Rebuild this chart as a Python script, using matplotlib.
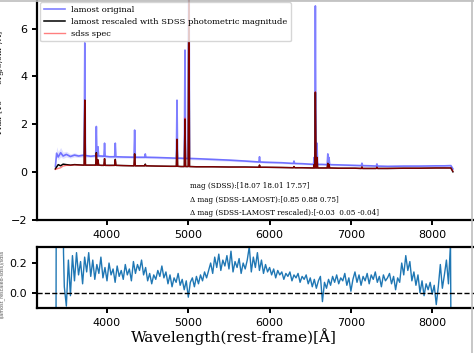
import numpy as np
import matplotlib
matplotlib.use("Agg")
import matplotlib.pyplot as plt
from matplotlib.lines import Line2D

# ---------------- data ----------------
# continuum nodes of the spectra (wavelength, Angstrom)
cont_wl = [3365, 3380, 3400, 3430, 3460, 3500, 3550, 3600, 3650, 3700, 3800, 3850,
           3930, 4030, 4200, 4400, 4600, 4780, 4910, 5100, 5300, 5500, 5700, 5950,
           6150, 6400, 6650, 6850, 7050, 7250, 7450, 7650, 7850, 8050, 8150, 8230, 8255]
blue_cont = [0.22, 0.78, 0.62, 0.8, 0.66, 0.73, 0.64, 0.7, 0.66, 0.69, 0.65, 0.67,
             0.66, 0.63, 0.62, 0.61, 0.6, 0.58, 0.57, 0.55, 0.52, 0.49, 0.45, 0.40,
             0.38, 0.34, 0.31, 0.29, 0.27, 0.25, 0.23, 0.24, 0.24, 0.25, 0.25, 0.26, 0.12]
blue_lo = [0.15, 0.6, 0.5, 0.62, 0.56, 0.62, 0.57, 0.62, 0.6, 0.62, 0.6, 0.61,
           0.6, 0.58, 0.57, 0.56, 0.55, 0.53, 0.52, 0.5, 0.47, 0.44, 0.41, 0.36,
           0.34, 0.3, 0.27, 0.25, 0.23, 0.21, 0.19, 0.2, 0.2, 0.21, 0.21, 0.22, 0.1]
blue_hi = [0.3, 1.05, 0.85, 1.02, 0.82, 0.86, 0.75, 0.8, 0.74, 0.76, 0.71, 0.73,
           0.72, 0.68, 0.67, 0.66, 0.65, 0.63, 0.62, 0.6, 0.57, 0.54, 0.5, 0.45,
           0.42, 0.38, 0.35, 0.33, 0.31, 0.29, 0.27, 0.28, 0.28, 0.29, 0.29, 0.3, 0.15]
black_cont = [0.12, 0.2, 0.3, 0.25, 0.32, 0.3, 0.28, 0.3, 0.29, 0.28, 0.28, 0.28,
              0.27, 0.27, 0.26, 0.25, 0.24, 0.23, 0.22, 0.21, 0.21, 0.2, 0.2, 0.19,
              0.18, 0.17, 0.16, 0.15, 0.15, 0.14, 0.14, 0.15, 0.15, 0.16, 0.16, 0.16, 0.0]
red_cont = [0.1, 0.12, 0.14, 0.17, 0.24, 0.27, 0.27, 0.29, 0.28, 0.28, 0.28, 0.27,
            0.27, 0.26, 0.26, 0.25, 0.24, 0.23, 0.22, 0.21, 0.21, 0.2, 0.19, 0.19,
            0.18, 0.17, 0.16, 0.15, 0.15, 0.14, 0.14, 0.15, 0.15, 0.16, 0.16, 0.16, 0.02]

# emission lines: centre, peaks and local continuum at the line
line_wl = [3727, 3869, 3889, 3970, 4102, 4340, 4471, 4861, 4959, 5007,
           5876, 6300, 6548, 6563, 6583, 6716, 6731, 7136, 7320]
blue_peak = [5.4, 1.9, 1.05, 1.2, 1.2, 1.75, 0.75, 3.0, 5.1, 14.0,
             0.63, 0.45, 0.6, 6.95, 1.2, 0.75, 0.6, 0.36, 0.33]
black_peak = [3.0, 0.8, 0.5, 0.55, 0.52, 0.75, 0.32, 1.36, 2.2, 7.8,
              0.28, 0.22, 0.3, 3.33, 0.6, 0.35, 0.3, 0.2, 0.19]
red_peak = [3.0, 0.78, 0.5, 0.55, 0.5, 0.75, 0.3, 1.36, 2.25, 8.0,
            0.28, 0.22, 0.3, 3.35, 0.6, 0.35, 0.3, 0.2, 0.19]
blue_base = [0.68, 0.66, 0.66, 0.65, 0.63, 0.61, 0.61, 0.57, 0.56, 0.56,
             0.41, 0.35, 0.31, 0.31, 0.31, 0.3, 0.3, 0.26, 0.24]
black_base = [0.28, 0.28, 0.28, 0.27, 0.27, 0.25, 0.25, 0.23, 0.22, 0.22,
              0.19, 0.17, 0.16, 0.16, 0.16, 0.16, 0.16, 0.14, 0.14]

# residual (lamost rescaled vs sdss) in the lower panel
resid_wl = [3370, 3378, 3458, 3465,
            3475, 3500, 3525, 3550, 3575, 3600, 3625, 3650, 3675, 3700,
            3725, 3750, 3775, 3800, 3825, 3850, 3875, 3900, 3925, 3950,
            3975, 4000, 4025, 4050, 4075, 4100, 4125, 4150, 4175, 4200,
            4225, 4250, 4275, 4300, 4325, 4350, 4375, 4400, 4425, 4450,
            4475, 4500, 4525, 4550, 4575, 4600, 4625, 4650, 4675, 4700,
            4725, 4750, 4775, 4800, 4825, 4850, 4875, 4900, 4925, 4950,
            4975, 5000, 5025, 5050, 5075, 5100, 5125, 5150, 5175, 5200,
            5225, 5250, 5275, 5300, 5325, 5350, 5375, 5400, 5425, 5450,
            5475, 5500, 5525, 5550, 5575, 5600, 5625, 5650, 5675, 5700,
            5725, 5750, 5775, 5800, 5825, 5850, 5875, 5900, 5925, 5950,
            5975, 6000, 6025, 6050, 6075, 6100, 6125, 6150, 6175, 6200,
            6225, 6250, 6275, 6300, 6325, 6350, 6375, 6400, 6425, 6450,
            6475, 6500, 6525, 6550, 6575, 6600, 6625, 6650, 6675, 6700,
            6725, 6750, 6775, 6800, 6825, 6850, 6875, 6900, 6925, 6950,
            6975, 7000, 7025, 7050, 7075, 7100, 7125, 7150, 7175, 7200,
            7225, 7250, 7275, 7300, 7325, 7350, 7375, 7400, 7425, 7450,
            7475, 7500, 7525, 7550, 7575, 7600, 7625, 7650, 7675, 7700,
            7725, 7750, 7775, 7800, 7825, 7850, 7875, 7900, 7925, 7950,
            7975, 8000, 8025, 8050, 8075, 8100, 8125, 8150, 8175, 8200,
            8225, 8240]
resid = [-1.0, 1.2, 1.2, 0.27,
         0.04, -0.09, 0.22, -0.02, 0.25, 0.08, 0.27, 0.12, 0.21, 0.06,
         0.24, 0.14, 0.27, 0.11, 0.22, 0.09, 0.19, 0.13, 0.24, 0.10,
         0.17, 0.08, 0.20, 0.12, 0.16, 0.07, 0.18, 0.11, 0.15, 0.09,
         0.19, 0.12, 0.16, 0.08, 0.21, 0.13, 0.19, 0.15, 0.22, 0.12,
         0.17, 0.08, 0.13, 0.06, 0.12, 0.09, 0.15, 0.11, 0.18, 0.10,
         0.14, 0.06, 0.12, 0.04, 0.10, 0.07, 0.13, 0.05, 0.09, 0.02,
         0.08, -0.03, 0.07, 0.10, 0.04, 0.11, 0.06, 0.12, 0.08, 0.14,
         0.10, 0.15, 0.20, 0.13, 0.24, 0.17, 0.26, 0.15, 0.22, 0.18,
         0.25, 0.16, 0.28, 0.14, 0.21, 0.17, 0.23, 0.13, 0.20, 0.16,
         0.22, 0.31, 0.14, 0.24, 0.17, 0.27, 0.15, 0.22, 0.13, 0.19,
         0.14, 0.17, 0.12, 0.16, 0.10, 0.15, 0.12, 0.14, 0.09, 0.13,
         0.11, 0.14, 0.08, 0.12, 0.10, 0.13, 0.07, 0.11, 0.09, 0.12,
         0.06, 0.10, 0.04, 0.09, 0.03, 0.08, 0.11, -0.06, 0.07, 0.03,
         0.09, 0.05, 0.11, 0.07, 0.12, 0.06, 0.10, 0.08, 0.13, 0.05,
         0.10, 0.01, 0.09, 0.14, 0.07, 0.12, 0.05, 0.11, 0.08, 0.13,
         0.06, 0.12, 0.09, 0.14, 0.07, 0.11, 0.04, 0.12, 0.08, 0.10,
         0.13, 0.06, 0.11, 0.02, 0.10, 0.07, 0.20, 0.12, 0.25, 0.15,
         0.21, 0.08, 0.14, 0.05, 0.12, 0.00, 0.08, -0.02, 0.06, 0.02,
         0.07, -0.01, 0.05, -0.08, 0.04, 0.19, 0.03, 0.12, 0.22, 0.06,
         0.33, -1.2]

mag_sdss = "[18.07 18.01 17.57]"
dmag = "[0.85 0.88 0.75]"
dmag_rescaled = "[-0.03  0.05 -0.04]"
xticks = [4000, 5000, 6000, 7000, 8000]
yticks_top = [-2, 0, 2, 4, 6]
yticks_bot = [0.0, 0.2]
LINE_HW = 8  # half width of an emission spike foot (Angstrom)


def build(cont, peaks, bases):
    wl = list(cont_wl)
    fl = list(cont)
    for c, p, b in zip(line_wl, peaks, bases):
        wl += [c - LINE_HW, c, c + LINE_HW]
        fl += [b, p, b]
    order = np.argsort(wl, kind="stable")
    return np.asarray(wl)[order], np.asarray(fl)[order]


# ---------------- figure ----------------
W, H = 474, 353
fig = plt.figure(figsize=(W / 100, H / 100), dpi=100)
ax1 = fig.add_axes([37 / W, (H - 220) / H, (480 - 37) / W, 221 / H])
ax2 = fig.add_axes([37 / W, (H - 308.3) / H, (480 - 37) / W, 61 / H])

serif = "DejaVu Serif"

bwl, bfl = build(blue_cont, blue_peak, blue_base)
kwl, kfl = build(black_cont, black_peak, black_base)
rwl, rfl = build(red_cont, red_peak, black_base)

ax1.fill_between(cont_wl, blue_lo, blue_hi, color="blue", alpha=0.12, lw=0)
ax1.plot(bwl, bfl, color="blue", alpha=0.5, lw=1.2, label="lamost original")
ax1.plot(kwl, kfl, color="black", lw=1.1,
         label="lamost rescaled with SDSS photometric magnitude")
ax1.plot(rwl, rfl, color="red", alpha=0.5, lw=1.0, label="sdss spec")

ax1.set_xlim(3139, 8588)
ax1.set_ylim(-2.02, 7.24)
ax1.set_xticks(xticks)
ax1.set_yticks(yticks_top)

leg = ax1.legend(loc="upper left", prop={"family": serif, "size": 6},
                 handlelength=2.5, borderaxespad=0.4)
leg.get_frame().set_edgecolor("#cccccc")

ty = [-0.59, -1.18, -1.73]
ax1.text(5020, ty[0], "mag (SDSS):" + mag_sdss, family=serif, fontsize=5.2, va="center")
ax1.text(5020, ty[1], "Δ mag (SDSS-LAMOST):" + dmag, family=serif, fontsize=5.2, va="center")
ax1.text(5020, ty[2], "Δ mag (SDSS-LAMOST rescaled):" + dmag_rescaled,
         family=serif, fontsize=5.2, va="center")

ax1.set_ylabel("Flux [10$^{-17}$ erg/s/cm$^2$/Å]", family=serif, fontsize=6)
ax1.yaxis.set_label_coords(-0.068, 0.62)

ax2.plot(resid_wl, resid, color="#1f77b4", lw=1.0)
ax2.axhline(0, color="black", ls="--", lw=1.0)
ax2.set_xlim(3139, 8588)
ax2.set_ylim(-0.105, 0.306)
ax2.set_xticks(xticks)
ax2.set_yticks(yticks_bot)
ax2.set_xlabel("Wavelength(rest-frame)[Å]", family=serif, fontsize=11)
ax2.xaxis.set_label_coords(0.445, -0.33)
ax2.set_ylabel("(lamost_rescaled-sdss)/sdss", fontsize=3.5, color="#555555")
ax2.yaxis.set_label_coords(-0.072, 0.4)

for ax in (ax1, ax2):
    for s in ax.spines.values():
        s.set_linewidth(1.6)
    ax.tick_params(direction="out", length=3.5, width=1.4, labelsize=8)

# grey border of the cropped picture
fig.add_artist(Line2D([0, 1], [1 - 0.6 / H, 1 - 0.6 / H], transform=fig.transFigure,
                      color="#bdbdbd", lw=1.2))
fig.add_artist(Line2D([472 / W, 472 / W], [0, 1], transform=fig.transFigure,
                      color="#bdbdbd", lw=1.2))

fig.savefig("out.png", dpi=100)
